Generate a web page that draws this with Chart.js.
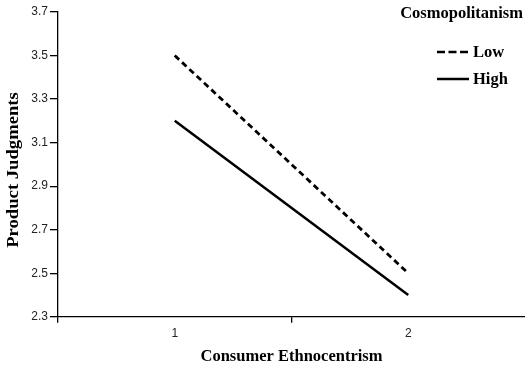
<!DOCTYPE html>
<html>
<head>
<meta charset="utf-8">
<script src="https://cdn.jsdelivr.net/npm/chart.js@4"></script>
<style>
  html, body { margin: 0; padding: 0; background: #fff; }
  #wrap { width: 525px; height: 367px; }
</style>
</head>
<body>
<div id="wrap"><canvas id="grafico"></canvas></div>
<script>
// datos
const categorias = ['1', '2'];
const bajo = [3.5, 2.5];   // Cosmopolitanism Low
const alto = [3.2, 2.4];   // Cosmopolitanism High
const etiquetasSerie = ['Low', 'High'];
const tituloLeyenda = 'Cosmopolitanism';
const tituloY = 'Product Judgments';

const serif = '"Liberation Serif", "Times New Roman", serif';
const sans = '"Liberation Sans", Arial, sans-serif';

// leyenda y titulo del eje Y dibujados a mano
const extras = {
  id: 'extras',
  afterDraw(chart) {
    const c = chart.ctx;
    c.save();
    c.fillStyle = '#000';
    c.font = 'bold 16.5px ' + serif;
    c.textBaseline = 'middle';
    c.textAlign = 'right';
    c.fillText(tituloLeyenda, 523, 14);
    c.textAlign = 'left';
    chart.data.datasets.forEach((ds, i) => {
      const y = 52 + i * 27;
      c.beginPath();
      c.setLineDash(ds.borderDash ? [8, 3.5] : []);
      c.lineWidth = 2.5;
      c.strokeStyle = '#000';
      c.moveTo(437, y);
      c.lineTo(469, y);
      c.stroke();
      c.setLineDash([]);
      c.fillText(ds.label, 473, y + 1);
    });

    // titulo Y, algo estirado en vertical como en la imagen original
    c.translate(14, 170);
    c.rotate(-Math.PI / 2);
    c.scale(1.13, 1);
    c.textAlign = 'center';
    c.fillText(tituloY, 0, 0);
    c.restore();
  }
};

new Chart(document.getElementById('grafico').getContext('2d'), {
  type: 'line',
  data: {
    labels: categorias,
    datasets: [
      { label: etiquetasSerie[0], data: bajo, borderColor: '#000', borderWidth: 2.8, borderDash: [6, 4], pointRadius: 0, fill: false },
      { label: etiquetasSerie[1], data: alto, borderColor: '#000', borderWidth: 2.5, pointRadius: 0, fill: false }
    ]
  },
  options: {
    responsive: true,
    maintainAspectRatio: false,
    animation: false,
    layout: { padding: { top: 12, right: 0, left: 0, bottom: 0 } },
    plugins: {
      legend: { display: false },
      tooltip: { enabled: false }
    },
    scales: {
      x: {
        offset: true,
        grid: {
          offset: true, drawOnChartArea: false, tickLength: 6, lineWidth: 1.3,
          color: ctx => ctx.type === 'tick' ? '#000' : 'rgba(0,0,0,0)'
        },
        border: { color: '#000', width: 1.3 },
        ticks: { color: '#222', font: { family: sans, size: 12 }, padding: 4 },
        title: { display: true, text: 'Consumer Ethnocentrism', color: '#000', font: { family: serif, size: 16.5, weight: 'bold' }, padding: { top: 2, bottom: 0 } }
      },
      y: {
        min: 2.3,
        max: 3.7,
        ticks: { stepSize: 0.2, color: '#222', font: { family: sans, size: 12 }, padding: 2, callback: v => v.toFixed(1) },
        grid: { drawOnChartArea: false, tickLength: 8, color: '#000', lineWidth: 1.3 },
        border: { color: '#000', width: 1.3 },
        afterFit: s => { s.width = 58; }
      }
    }
  },
  plugins: [extras]
});
</script>
</body>
</html>
